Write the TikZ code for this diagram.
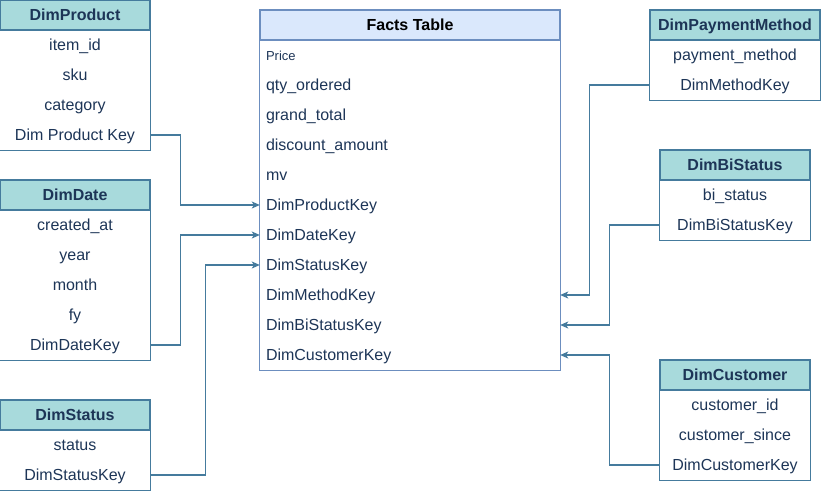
\documentclass[tikz,border=0pt]{standalone}
\usepackage{fontspec}
\setmainfont{Liberation Sans}
\usetikzlibrary{arrows.meta}

\definecolor{dimfill}{HTML}{A8DADC}
\definecolor{dimline}{HTML}{457B9D}
\definecolor{dimtext}{HTML}{1D3557}
\definecolor{factfill}{HTML}{DAE8FC}
\definecolor{factline}{HTML}{6C8EBF}

\begin{document}
\begin{tikzpicture}[
    x=1pt, y=-1pt,
    head/.style={
      rectangle,
      draw=dimline,
      fill=dimfill,
      line width=1.2pt,
      text=dimtext,
      font=\fontsize{16}{19}\selectfont\bfseries,
      minimum height=30pt,
      text height=12.5pt,
      text depth=2.5pt,
      inner sep=0pt
    },
    field/.style={
      rectangle,
      text=dimtext,
      font=\fontsize{16}{19}\selectfont,
      minimum height=30pt,
      text height=12.5pt,
      text depth=2.5pt,
      inner sep=0pt
    },
    fact/.style={
      field,
      inner xsep=6pt,
      text width=288pt,
      align=left
    },
    frame/.style={draw=dimline, line width=1.2pt},
    link/.style={draw=dimline, line width=1.2pt, -{Stealth[length=8pt,width=7pt,inset=2pt]}},
]

\useasboundingbox (0,0) rectangle (821,491);

% DimProduct
\node[head, minimum width=150pt] (dp) at (75,15) {DimProduct};
\node[field, minimum width=150pt] (dp-id) at (75,45) {item\_id};
\node[field, minimum width=150pt] (dp-sku) at (75,75) {sku};
\node[field, minimum width=150pt] (dp-cat) at (75,105) {category};
\node[field, minimum width=150pt] (dp-key) at (75,135) {Dim Product Key};
\draw[frame] (dp.south west) rectangle (dp-key.south east);

% DimDate
\node[head, minimum width=150pt] (dd) at (75,195) {DimDate};
\node[field, minimum width=150pt] (dd-created) at (75,225) {created\_at};
\node[field, minimum width=150pt] (dd-year) at (75,255) {year};
\node[field, minimum width=150pt] (dd-month) at (75,285) {month};
\node[field, minimum width=150pt] (dd-fy) at (75,315) {fy};
\node[field, minimum width=150pt] (dd-key) at (75,345) {DimDateKey};
\draw[frame] (dd.south west) rectangle (dd-key.south east);

% DimStatus
\node[head, minimum width=150pt] (ds) at (75,415) {DimStatus};
\node[field, minimum width=150pt] (ds-status) at (75,445) {status};
\node[field, minimum width=150pt] (ds-key) at (75,475) {DimStatusKey};
\draw[frame] (ds.south west) rectangle (ds-key.south east);

% Facts Table
\node[head, draw=factline, fill=factfill, text=black, minimum width=300pt] (ft) at (410,25) {Facts Table};
\node[fact, font=\fontsize{13}{15}\selectfont] (ft-price) at (410,55) {Price};
\node[fact] (ft-qty) at (410,85) {qty\_ordered};
\node[fact] (ft-total) at (410,115) {grand\_total};
\node[fact] (ft-disc) at (410,145) {discount\_amount};
\node[fact] (ft-mv) at (410,175) {mv};
\node[fact] (ft-prod) at (410,205) {DimProductKey};
\node[fact] (ft-date) at (410,235) {DimDateKey};
\node[fact] (ft-status) at (410,265) {DimStatusKey};
\node[fact] (ft-method) at (410,295) {DimMethodKey};
\node[fact] (ft-bi) at (410,325) {DimBiStatusKey};
\node[fact] (ft-cust) at (410,355) {DimCustomerKey};
\draw[frame, draw=factline] (ft.south west) rectangle (ft-cust.south east);

% DimPaymentMethod
\node[head, minimum width=170pt] (pm) at (735,25) {DimPaymentMethod};
\node[field, minimum width=170pt] (pm-method) at (735,55) {payment\_method};
\node[field, minimum width=170pt] (pm-key) at (735,85) {DimMethodKey};
\draw[frame] (pm.south west) rectangle (pm-key.south east);

% DimBiStatus
\node[head, minimum width=150pt] (bs) at (735,165) {DimBiStatus};
\node[field, minimum width=150pt] (bs-status) at (735,195) {bi\_status};
\node[field, minimum width=150pt] (bs-key) at (735,225) {DimBiStatusKey};
\draw[frame] (bs.south west) rectangle (bs-key.south east);

% DimCustomer
\node[head, minimum width=150pt] (dc) at (735,375) {DimCustomer};
\node[field, minimum width=150pt] (dc-id) at (735,405) {customer\_id};
\node[field, minimum width=150pt] (dc-since) at (735,435) {customer\_since};
\node[field, minimum width=150pt] (dc-key) at (735,465) {DimCustomerKey};
\draw[frame] (dc.south west) rectangle (dc-key.south east);

% keys to facts
\draw[link] (dp-key.east) -- ++(30,0) |- (ft-prod.west);
\draw[link] (dd-key.east) -- ++(30,0) |- (ft-date.west);
\draw[link] (ds-key.east) -- ++(55,0) |- (ft-status.west);
\draw[link] (pm-key.west) -- ++(-60,0) |- (ft-method.east);
\draw[link] (bs-key.west) -- ++(-50,0) |- (ft-bi.east);
\draw[link] (dc-key.west) -- ++(-50,0) |- (ft-cust.east);

\end{tikzpicture}
\end{document}
